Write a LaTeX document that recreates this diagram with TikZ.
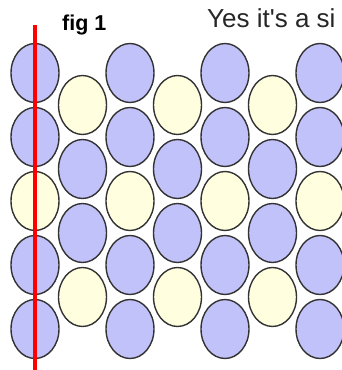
\documentclass[tikz,border=0pt]{standalone}
\usepackage{fontspec}
\setmainfont{Liberation Sans}
\newfontfamily\recta{Liberation Sans}[Ligatures=TeXOff]
\usetikzlibrary{shapes.geometric}
\definecolor{lila}{HTML}{C2C2FA}
\definecolor{crema}{HTML}{FFFFE0}
\definecolor{borde}{HTML}{333333}
\begin{document}
\begin{tikzpicture}[x=1pt, y=-1pt,
        celda/.style={ellipse, draw=borde, line width=1.4pt, inner sep=0pt,
        minimum width=48pt, minimum height=59pt},
        azul/.style={celda, fill=lila},
        amarillo/.style={celda, fill=crema},
        linea/.style={red, line width=3.6pt}
    ]
        \useasboundingbox (0,0) rectangle (341,370);
        % columnas pares: cinco celdas
        \foreach \i in {0,2,4,6}
            \foreach \j/\tono in {0/azul,1/azul,2/amarillo,3/azul,4/azul}
                \node[\tono] (e-\i-\j) at ({35+47.5*\i},{73+64*\j}) {};
        % columnas impares: cuatro celdas
        \foreach \i in {1,3,5}
            \foreach \j/\tono in {0/amarillo,1/azul,2/azul,3/amarillo}
                \node[\tono] (e-\i-\j) at ({35+47.5*\i},{105+64*\j}) {};
        \coordinate (arriba) at (35,25);
        \coordinate (abajo) at (35,370);
        \draw[linea] (arriba) -- (abajo);
        \node[anchor=base west, inner sep=0pt, font=\fontsize{21.5}{21.5}\selectfont\bfseries]
            (fig) at (62,30) {fig 1};
        \node[anchor=base west, inner sep=0pt, text=black!85,
            font=\recta\fontsize{26}{26}\selectfont] (texto) at (207,27) {Yes it's a si};
    \end{tikzpicture}
\end{document}
